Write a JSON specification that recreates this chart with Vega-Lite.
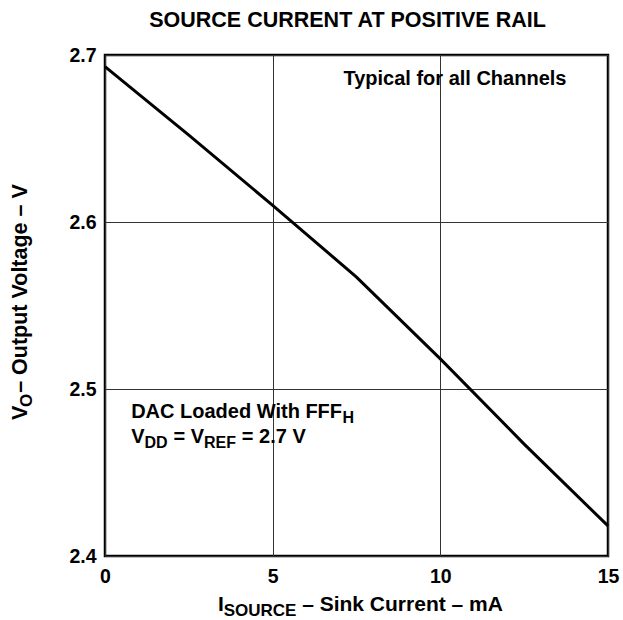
{
  "$schema": "https://vega.github.io/schema/vega-lite/v6.json",
  "width": 503,
  "height": 501,
  "autosize": "none",
  "padding": {"left": 105, "top": 55, "right": 15, "bottom": 64},
  "background": "white",
  "config": {
    "view": {"stroke": "black", "strokeWidth": 2.5},
    "font": "Liberation Sans"
  },
  "title": {
    "text": "SOURCE CURRENT AT POSITIVE RAIL",
    "anchor": "middle",
    "dx": -9,
    "offset": 14,
    "fontSize": 21.5,
    "fontWeight": "bold",
    "font": "Liberation Sans",
    "color": "black"
  },
  "datasets": {
    "curve": [
      {"current": 0, "voltage": 2.693},
      {"current": 2.5, "voltage": 2.652},
      {"current": 5, "voltage": 2.61},
      {"current": 7.5, "voltage": 2.567},
      {"current": 10, "voltage": 2.518},
      {"current": 12.5, "voltage": 2.467},
      {"current": 15, "voltage": 2.418}
    ],
    "labels": [
      {"kind": "main", "current": 7.11, "voltage": 2.682, "text": "Typical for all Channels"},
      {"kind": "main", "current": 0.78, "voltage": 2.4825, "text": "DAC Loaded With FFF"},
      {"kind": "sub", "current": 7.08, "voltage": 2.4825, "text": "H"},
      {"kind": "main", "current": 0.78, "voltage": 2.4677, "text": "V"},
      {"kind": "sub", "current": 1.18, "voltage": 2.4677, "text": "DD"},
      {"kind": "main", "current": 2.04, "voltage": 2.4677, "text": "= V"},
      {"kind": "sub", "current": 2.95, "voltage": 2.4677, "text": "REF"},
      {"kind": "main", "current": 4.08, "voltage": 2.4677, "text": "= 2.7 V"},
      {"kind": "xtitle", "current": 3.37, "voltage": 2.367, "text": "I"},
      {"kind": "xsub", "current": 3.54, "voltage": 2.367, "text": "SOURCE"},
      {"kind": "xtitle", "current": 5.88, "voltage": 2.367, "text": "– Sink Current – mA"},
      {"kind": "ytitle", "current": -2.34, "voltage": 2.4814, "text": "V"},
      {"kind": "ysub", "current": -2.34, "voltage": 2.4892, "text": "O"},
      {"kind": "ytitle", "current": -2.34, "voltage": 2.4977, "text": "– Output Voltage – V"}
    ]
  },
  "encoding": {
    "x": {
      "field": "current",
      "type": "quantitative",
      "scale": {"domain": [0, 15], "nice": false, "zero": false},
      "axis": {
        "values": [0, 5, 10, 15],
        "title": null,
        "grid": true,
        "gridColor": "#333333",
        "gridWidth": 1,
        "domain": false,
        "ticks": false,
        "tickSize": 0,
        "labelPadding": 11,
        "labelFont": "Liberation Sans",
        "labelFontSize": 19.5,
        "labelFontWeight": "bold",
        "labelColor": "black",
        "labelFlush": false
      }
    },
    "y": {
      "field": "voltage",
      "type": "quantitative",
      "scale": {"domain": [2.4, 2.7], "nice": false, "zero": false},
      "axis": {
        "values": [2.4, 2.5, 2.6, 2.7],
        "format": ".1f",
        "title": null,
        "grid": true,
        "gridColor": "#333333",
        "gridWidth": 1,
        "domain": false,
        "ticks": false,
        "tickSize": 0,
        "labelPadding": 9,
        "labelFont": "Liberation Sans",
        "labelFontSize": 19.5,
        "labelFontWeight": "bold",
        "labelColor": "black",
        "labelFlush": false,
        "labelBaseline": "middle"
      }
    }
  },
  "layer": [
    {
      "data": {"name": "curve"},
      "mark": {"type": "line", "color": "black", "strokeWidth": 3}
    },
    {
      "data": {"name": "labels"},
      "transform": [{"filter": "datum.kind === 'main'"}],
      "mark": {"type": "text", "align": "left", "baseline": "alphabetic", "font": "Liberation Sans", "fontWeight": "bold", "fontSize": 20, "color": "black"},
      "encoding": {"text": {"field": "text"}}
    },
    {
      "data": {"name": "labels"},
      "transform": [{"filter": "datum.kind === 'sub'"}],
      "mark": {"type": "text", "align": "left", "baseline": "alphabetic", "font": "Liberation Sans", "fontWeight": "bold", "fontSize": 16, "dy": 5, "color": "black"},
      "encoding": {"text": {"field": "text"}}
    },
    {
      "data": {"name": "labels"},
      "transform": [{"filter": "datum.kind === 'xtitle'"}],
      "mark": {"type": "text", "align": "left", "baseline": "alphabetic", "font": "Liberation Sans", "fontWeight": "bold", "fontSize": 21, "color": "black"},
      "encoding": {"text": {"field": "text"}}
    },
    {
      "data": {"name": "labels"},
      "transform": [{"filter": "datum.kind === 'xsub'"}],
      "mark": {"type": "text", "align": "left", "baseline": "alphabetic", "font": "Liberation Sans", "fontWeight": "bold", "fontSize": 17, "dy": 5, "color": "black"},
      "encoding": {"text": {"field": "text"}}
    },
    {
      "data": {"name": "labels"},
      "transform": [{"filter": "datum.kind === 'ytitle'"}],
      "mark": {"type": "text", "align": "left", "baseline": "alphabetic", "angle": 270, "font": "Liberation Sans", "fontWeight": "bold", "fontSize": 21.5, "color": "black"},
      "encoding": {"text": {"field": "text"}}
    },
    {
      "data": {"name": "labels"},
      "transform": [{"filter": "datum.kind === 'ysub'"}],
      "mark": {"type": "text", "align": "left", "baseline": "alphabetic", "angle": 270, "font": "Liberation Sans", "fontWeight": "bold", "fontSize": 17, "dy": 5, "color": "black"},
      "encoding": {"text": {"field": "text"}}
    }
  ]
}
